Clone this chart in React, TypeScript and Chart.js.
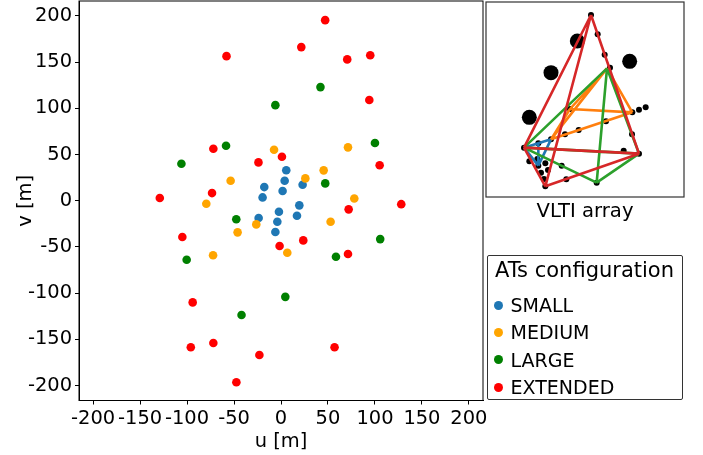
import React, { useEffect, useRef } from "react";
import { Chart, registerables } from "chart.js";

Chart.register(...registerables);

const FONT = '"DejaVu Sans"';
const configNames = ["SMALL", "MEDIUM", "LARGE", "EXTENDED"];
const markerColors = ["#1f77b4", "orange", "green", "red"];
const lineColors = ["#1f77b4", "#ff7f0e", "#2ca02c", "#d62728"];
const axisTicks = [-200, -150, -100, -50, 0, 50, 100, 150, 200];

type P = { x: number; y: number };
const pts = (a: number[][]): P[] => a.map(([x, y]) => ({ x, y }));

const smallUV = [[5.6, 33], [3.9, 21.6], [23, 17.3], [-17.8, 14.8], [1.7, 10.5], [-19.6, 3.6], [19.5, -5], [-2.2, -11.9], [17, -16.2], [-23.8, -18.7], [-3.9, -22.7], [-6, -33.9]];
const mediumUV = [[-7.4, 55.2], [71.3, 57.8], [25.9, 24.2], [45.4, 32.9], [-53.6, 21.6], [-79.5, -3.2], [78, 2.5], [-26.3, -25.6], [-46.2, -34.2], [52.8, -22.7], [-72.3, -59], [6.7, -56.3]];
const largeUV = [[-58.5, 59.5], [-106, 40], [47.1, 18.8], [-47.6, -20.1], [-100.4, -63.8], [58.5, -60.6], [-6, 103.5], [42, 123], [100, 62.5], [105.6, -41.5], [4.6, -104], [-42, -123.7]];
const extendedUV = [[-72, 56.3], [-24, 41.5], [1, 47.6], [-73.4, 8.3], [-105, -39.3], [23.7, -42.9], [-1.5, -49], [72, -9.3], [71.3, -57.7], [105, 38.5], [47, 195.5], [21.6, 166.3], [-58, 156.5], [70.5, 153], [95, 157.5], [94, 109], [-129, 3], [128, -3.7], [-94, -110], [-72, -154], [-96, -158.5], [57, -158.5], [-23, -167], [-47.5, -196.5]];
const uvSeries = [smallUV, mediumUV, largeUV, extendedUV];

// Inset station map, in the inset's own picture units
const stationsSmall = [[333, 45], [353, 103], [374, 164], [390, 203], [457, 337], [477, 329], [497, 322], [378, 364], [456, 403], [296, 390], [255, 403], [213, 418], [175, 430], [132, 443], [270, 327], [431, 452], [477, 461], [148, 484], [196, 490], [172, 477], [175, 497], [204, 510], [183, 518], [245, 497], [259, 538], [196, 559], [350, 548], [192, 537]];
const telescopes = [[292, 123], [449, 184], [213, 218], [148, 352]];
const quadSmall = [[132, 443], [175, 430], [213, 418], [175, 497]];
const quadMedium = [[213, 418], [457, 337], [381, 205], [270, 327]];
const quadLarge = [[132, 443], [381, 205], [350, 548], [477, 461]];
const quadExtended = [[333, 45], [132, 443], [196, 559], [477, 461]];
const quads = [quadSmall, quadMedium, quadLarge, quadExtended];

// every baseline of a quadruplet, separated by gaps
const baselines = (q: number[][]) => {
  const out: (P | { x: number; y: null })[] = [];
  for (let i = 0; i < q.length; i++)
    for (let j = i + 1; j < q.length; j++) {
      out.push({ x: q[i][0], y: q[i][1] }, { x: q[j][0], y: q[j][1] }, { x: q[j][0], y: null });
    }
  return out;
};

const framePlugin = {
  id: "frame",
  afterDatasetsDraw(c: any) {
    const { ctx, chartArea: a } = c;
    const o = c.options.plugins.frame;
    ctx.save();
    ctx.strokeStyle = o.color;
    ctx.lineWidth = o.width;
    ctx.strokeRect(a.left, a.top, a.right - a.left, a.bottom - a.top);
    ctx.restore();
  },
};

export default function App() {
  const mainRef = useRef<HTMLCanvasElement>(null);
  const insetRef = useRef<HTMLCanvasElement>(null);

  useEffect(() => {
    const axisBase = (title: string, size: number, limit: number, padding: any) => ({
      type: "linear" as const,
      min: -limit,
      max: limit,
      afterBuildTicks: (s: any) => {
        s.ticks = axisTicks.map((value) => ({ value }));
      },
      ticks: {
        autoSkip: false,
        maxRotation: 0,
        color: "#000",
        padding: 3,
        font: { family: FONT, size: 19.44 },
        callback: (v: any) => String(v),
      },
      grid: { drawOnChartArea: false, drawTicks: true, tickLength: 4, color: "#000", tickWidth: 1 },
      border: { display: true, color: "#000", width: 1 },
      title: { display: true, text: title, color: "#000", padding, font: { family: FONT, size: 19.44 } },
      afterFit: (s: any) => {
        if (s.isHorizontal()) s.height = size;
        else s.width = size;
        s.paddingTop = 0;
        s.paddingBottom = 0;
        s.paddingLeft = 0;
        s.paddingRight = 0;
      },
    });

    const main = new Chart(mainRef.current!, {
      type: "scatter",
      plugins: [framePlugin],
      data: {
        datasets: uvSeries.map((d, i) => ({
          label: configNames[i],
          data: pts(d),
          backgroundColor: markerColors[i],
          borderWidth: 0,
          pointRadius: 4.3,
          order: 4 - i,
        })),
      },
      options: {
        animation: false,
        responsive: false,
        events: [],
        layout: { padding: { top: 11, right: 220, left: 0, bottom: 0 } },
        scales: {
          x: axisBase("u [m]", 54.5, 215, { top: 0, bottom: 1 }),
          y: axisBase("v [m]", 79, 216.2, { top: 14, bottom: 0 }),
        },
        plugins: {
          legend: { display: false },
          tooltip: { enabled: false },
          frame: { color: "#000", width: 1 },
        } as any,
      },
    } as any);

    const lineSets = quads.map((q, i) => ({
      type: "scatter" as const,
      data: baselines(q),
      showLine: true,
      spanGaps: false,
      borderColor: lineColors[i],
      borderWidth: 2.6,
      pointRadius: 0,
      order: 4 - i,
    }));

    const inset = new Chart(insetRef.current!, {
      type: "scatter",
      plugins: [framePlugin],
      data: {
        datasets: [
          { data: pts(stationsSmall), backgroundColor: "#000", borderWidth: 0, pointRadius: 3, order: 10 },
          { data: pts(telescopes), backgroundColor: "#000", borderWidth: 0, pointRadius: 7.5, order: 10 },
          ...lineSets,
        ],
      },
      options: {
        animation: false,
        responsive: false,
        events: [],
        layout: { padding: 12 },
        scales: {
          x: { type: "linear", display: false, min: 18, max: 612 },
          y: { type: "linear", display: false, min: 6, max: 591, reverse: true },
        },
        plugins: {
          legend: { display: false },
          tooltip: { enabled: false },
          frame: { color: "#333", width: 1.2 },
        } as any,
      },
    } as any);

    return () => {
      main.destroy();
      inset.destroy();
    };
  }, []);

  return (
    <div style={{ position: "absolute", left: 0, top: 0, width: 703, height: 455, overflow: "hidden", background: "#fff" }}>
      <canvas ref={mainRef} width={703} height={465} style={{ position: "absolute", left: 0, top: -10 }} />
      <canvas ref={insetRef} width={222} height={219} style={{ position: "absolute", left: 474, top: -10, filter: "blur(0.35px)" }} />
      <div
        style={{
          position: "absolute",
          left: 485,
          width: 200,
          top: 199,
          textAlign: "center",
          fontFamily: FONT,
          fontSize: 19.6,
          lineHeight: "24px",
          color: "#000",
        }}
      >
        VLTI array
      </div>
      <div
        style={{
          position: "absolute",
          left: 486.5,
          top: 254.5,
          width: 196,
          height: 145,
          boxSizing: "border-box",
          border: "1px solid #333",
          borderRadius: 2,
          fontFamily: FONT,
          color: "#000",
          background: "#fff",
        }}
      >
        <div style={{ position: "absolute", left: 7.5, top: 1, fontSize: 21, lineHeight: "26px", whiteSpace: "nowrap" }}>
          ATs configuration
        </div>
        {configNames.map((n, i) => (
          <div key={n} style={{ position: "absolute", left: 0, top: 38.5 + i * 27.4, height: 22, width: 190 }}>
            <span
              style={{
                position: "absolute",
                left: 6.5,
                top: 6.5,
                width: 9,
                height: 9,
                borderRadius: "50%",
                background: markerColors[i],
              }}
            />
            <span style={{ position: "absolute", left: 23, top: 0, fontSize: 19, lineHeight: "22px", whiteSpace: "nowrap" }}>{n}</span>
          </div>
        ))}
      </div>
    </div>
  );
}
